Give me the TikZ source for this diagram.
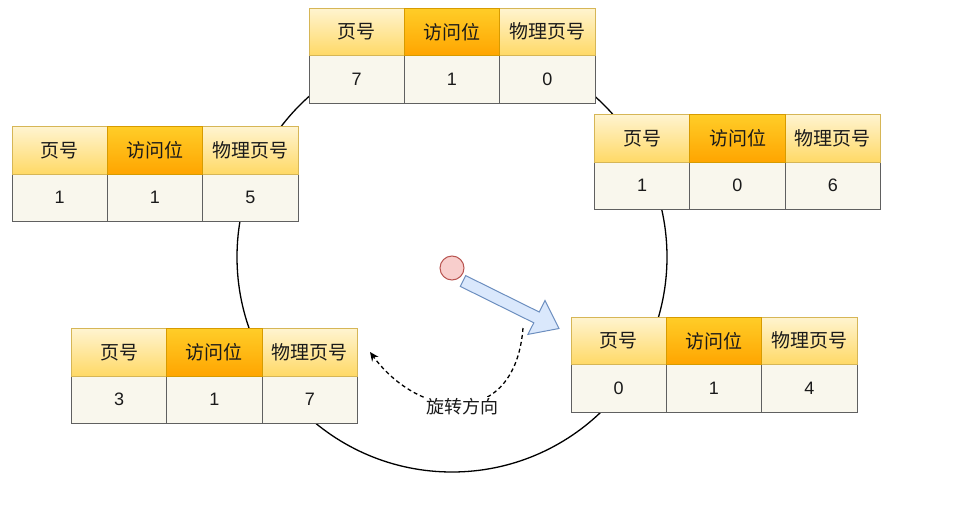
\documentclass[tikz,border=0pt]{standalone}
\usepackage{fontspec}
\setmainfont{Noto Sans CJK SC}
\newfontfamily\digitfont{Liberation Sans}
\usetikzlibrary{arrows.meta}
\definecolor{hdrtop}{HTML}{FFF4D0}
\definecolor{hdrbot}{HTML}{FFD966}
\definecolor{hdrline}{HTML}{D6B656}
\definecolor{midtop}{HTML}{FFCD28}
\definecolor{midbot}{HTML}{FFA500}
\definecolor{midline}{HTML}{D79B00}
\definecolor{cellfill}{HTML}{F9F7ED}
\definecolor{cellline}{HTML}{606060}
\definecolor{txt}{HTML}{1A1A1A}
\definecolor{redfill}{HTML}{F8CECC}
\definecolor{redline}{HTML}{B85450}
\definecolor{bluefill}{HTML}{DAE8FC}
\definecolor{blueline}{HTML}{6C8EBF}
\tikzset{
  cellbase/.style={anchor=north west, minimum width=95.33pt, minimum height=47.5pt,
    inner sep=0pt, outer sep=0pt, text=txt, font=\fontsize{19}{21}\selectfont},
  hdrcell/.style={cellbase, draw=hdrline, line width=1pt, top color=hdrtop, bottom color=hdrbot},
  midcell/.style={cellbase, draw=midline, line width=1pt, top color=midtop, bottom color=midbot},
  datacell/.style={cellbase, draw=cellline, line width=1pt, fill=cellfill, font=\digitfont\fontsize{18}{20}\selectfont},
}
\newcommand\pgtable[6]{%
  \begin{scope}[shift={(#2,#3)}]
    \node[datacell] (#1d1) at (0,47.5) {#4};
    \node[datacell] (#1d2) at (95.33,47.5) {#5};
    \node[datacell] (#1d3) at (190.67,47.5) {#6};
    \node[hdrcell] (#1h1) at (0,0) {页号};
    \node[hdrcell] (#1h3) at (190.67,0) {物理页号};
    \node[midcell] (#1h2) at (95.33,0) {访问位};
  \end{scope}}
\begin{document}
\begin{tikzpicture}[x=1pt,y=-1pt]
\useasboundingbox (0,0) rectangle (974,506);
% clock circle
\node[draw=black, line width=1.3pt, circle, minimum size=430pt, inner sep=0pt] (clock) at (452,257) {};
% tables
\pgtable{top}{309}{8}{7}{1}{0}
\pgtable{lu}{12}{126.5}{1}{1}{5}
\pgtable{ru}{594.5}{114.5}{1}{0}{6}
\pgtable{ll}{71.5}{328.5}{3}{1}{7}
\pgtable{rl}{571}{317}{0}{1}{4}
% pointer
\node[circle, draw=redline, fill=redfill, line width=1pt, minimum size=24pt, inner sep=0pt] (hand) at (452,268) {};
\draw[draw=blueline, fill=bluefill, line width=1pt, line join=miter]
  (460.3,286.4) -- (465.7,275.6) -- (539.2,312.0) -- (545.0,300.4) -- (559,328.5)
  -- (527.9,334.4) -- (533.8,322.8) -- cycle;
% rotation direction
\coordinate (rs) at (523,328);
\coordinate (re) at (370,352);
\draw[dashed, dash pattern=on 4pt off 3pt, line width=1.3pt, -{Stealth[length=9pt,width=8pt]}]
  (rs) .. controls (515,430) and (420,420) .. (re)
  node[pos=0.5, fill=white, inner sep=1pt, text=txt, font=\fontsize{18}{20}\selectfont, yshift=-3pt] (lbl) {旋转方向};
\end{tikzpicture}
\end{document}
